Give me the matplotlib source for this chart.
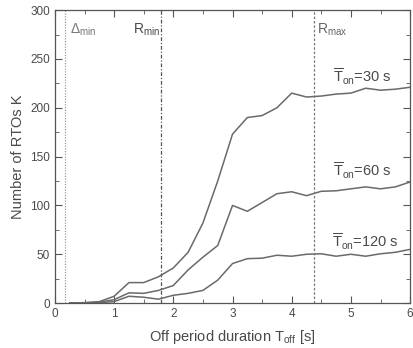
import matplotlib
matplotlib.use("Agg")
import matplotlib.pyplot as plt
from matplotlib.ticker import MultipleLocator

plt.rcParams['font.family'] = ['Liberation Sans', 'DejaVu Sans']
plt.rcParams['mathtext.fontset'] = 'custom'
plt.rcParams['mathtext.rm'] = 'Liberation Sans'
plt.rcParams['mathtext.it'] = 'Liberation Sans'
plt.rcParams['mathtext.bf'] = 'Liberation Sans'

x = [0.25, 0.5, 0.75, 1.0, 1.25, 1.5, 1.75, 2.0, 2.25, 2.5, 2.75, 3.0, 3.25, 3.5,
     3.75, 4.0, 4.25, 4.5, 4.75, 5.0, 5.25, 5.5, 5.75, 6.0]
ton30 = [0, 0.5, 1.5, 7, 21, 21, 27, 36, 52, 82, 125, 173, 190, 192,
         200, 215, 211, 212, 214, 215, 220, 218, 219, 221]
ton60 = [0, 0.3, 1, 3.5, 10.5, 10, 13, 18, 34, 47, 59, 100, 94, 103,
         112, 114, 110, 114.5, 115, 117, 119, 117, 119, 124]
ton120 = [0, 0.2, 0.5, 1.5, 7, 6, 4, 8, 10, 13, 23.5, 40.5, 45.5, 46,
          49, 48, 50, 50.5, 48, 50, 48, 50.5, 52, 55]

delta_min = 0.17
r_min = 1.79
r_max = 4.37

fig = plt.figure(figsize=(4.13, 3.48), dpi=100)
ax = fig.add_axes([0.133, 0.129, 0.860, 0.842])

lc = '#6a6a6a'
tc = '#4a4a4a'
for s in (ton30, ton60, ton120):
    ax.plot(x, s, color=lc, lw=1.1)

ax.axvline(delta_min, color='#9a9a9a', lw=0.9, ls=(0, (1, 1.2)))
ax.axvline(r_min, color='#555555', lw=0.9, ls=(0, (3, 1.5, 1, 1.5)))
ax.axvline(r_max, color='#777777', lw=0.9, ls=(0, (2, 1.5)))

ax.text(0.25, 280, r'$\Delta_{\rm min}$', color='#777777', fontsize=10, va='center')
ax.text(1.32, 280, r'$\mathrm{R}_{\rm min}$', color=tc, fontsize=10, va='center')
ax.text(4.42, 280, r'$\mathrm{R}_{\rm max}$', color='#666666', fontsize=10, va='center')

ax.text(4.7, 232, r'$\overline{\mathrm{T}}_{\rm on}$=30 s', color=tc, fontsize=10.5, va='center')
ax.text(4.7, 135, r'$\overline{\mathrm{T}}_{\rm on}$=60 s', color=tc, fontsize=10.5, va='center')
ax.text(4.68, 63, r'$\overline{\mathrm{T}}_{\rm on}$=120 s', color=tc, fontsize=10.5, va='center')

ax.set_xlim(0, 6)
ax.set_ylim(0, 300)
ax.xaxis.set_major_locator(MultipleLocator(1))
ax.xaxis.set_minor_locator(MultipleLocator(0.5))
ax.yaxis.set_major_locator(MultipleLocator(50))
ax.yaxis.set_minor_locator(MultipleLocator(25))
ax.tick_params(which='both', direction='in', top=True, right=True, colors='#555555',
               labelcolor=tc, labelsize=8.5)
ax.tick_params(which='major', length=5)
ax.tick_params(which='minor', length=3)
for sp in ax.spines.values():
    sp.set_color('#555555')
    sp.set_linewidth(0.9)

ax.set_xlabel(r'Off period duration T$_{\rm off}$ [s]', color=tc, fontsize=10.5, labelpad=6)
ax.set_ylabel('Number of RTOs K', color=tc, fontsize=10.5, labelpad=4)

fig.savefig('out.png', dpi=100, facecolor='white')
